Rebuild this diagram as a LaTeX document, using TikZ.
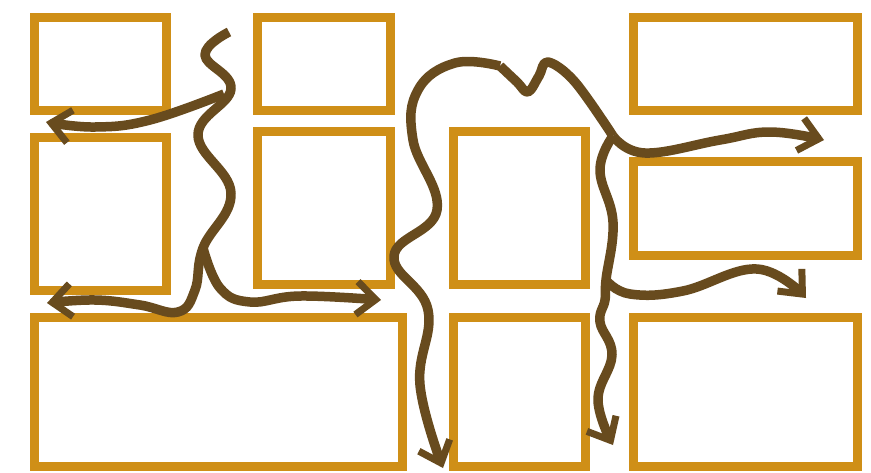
\documentclass[tikz,border=0pt]{standalone}
\usetikzlibrary{arrows.meta}
\definecolor{boxc}{RGB}{207,143,23}
\definecolor{pathc}{RGB}{104,75,30}
\begin{document}
\begin{tikzpicture}[x=1pt,y=-1pt,
  box/.style={draw=boxc,line width=9pt,inner sep=0pt,outer sep=0pt,fill=white},
  flow/.style={draw=pathc,line width=9.5pt,line cap=butt,line join=round},
  arr/.style={flow,-{Straight Barb[length=19pt,width=33pt,line width=7pt]}}]
\useasboundingbox (0,0) rectangle (871,472);
% boxes
\node[box,minimum width=132pt,minimum height=93pt]  (b1)  at (100.5,64) {};
\node[box,minimum width=133pt,minimum height=93pt]  (b2)  at (324,64) {};
\node[box,minimum width=132pt,minimum height=153pt] (b3)  at (100.5,214) {};
\node[box,minimum width=133pt,minimum height=153pt] (b4)  at (324,208) {};
\node[box,minimum width=368pt,minimum height=149pt] (b5)  at (218.5,392) {};
\node[box,minimum width=132pt,minimum height=153pt] (b6)  at (519.5,208) {};
\node[box,minimum width=132pt,minimum height=149pt] (b7)  at (519.5,392) {};
\node[box,minimum width=224pt,minimum height=93pt]  (b8)  at (745.5,64) {};
\node[box,minimum width=224pt,minimum height=94pt]  (b9)  at (745.5,208.5) {};
\node[box,minimum width=224pt,minimum height=149pt] (b10) at (745.5,392) {};
% named ends and junctions
\coordinate (sA) at (229,32);
\coordinate (jA1) at (224,94);
\coordinate (jA2) at (203,248);
\coordinate (tA1) at (46,122);
\coordinate (tA2) at (47,303);
\coordinate (tA3) at (381,300);
\coordinate (sB) at (500,66);
\coordinate (tB) at (443,468);
\coordinate (jB1) at (613,136);
\coordinate (jB2) at (606,280);
\coordinate (tB1) at (824,140);
\coordinate (tB2) at (806,298);
\coordinate (tB3) at (613,445);
% left wavy connector
\draw[arr] plot[smooth,tension=0.7] coordinates {(sA) (205,55) (231,89) (198,135) (231,193) (jA2) (195,290) (178,312) (140,305) (95,300) (tA2)};
\draw[arr] plot[smooth,tension=0.7] coordinates {(jA1) (150,120) (95,127) (tA1)};
\draw[arr] plot[smooth,tension=0.7] coordinates {(jA2) (220,288) (250,302) (300,296) (tA3)};
% central connector
\draw[arr] plot[smooth,tension=0.7] coordinates {(sB) (455,63) (418,90) (413,140) (437,210) (394,256) (428,310) (420,385) (tB)};
\draw[flow] plot[smooth,tension=0.6] coordinates {(sB) (517,82) (528,92) (539,76) (548,62) (575,82) (jB1)};
\draw[arr] plot[smooth,tension=0.7] coordinates {(jB1) (645,153) (720,140) (770,132) (tB1)};
\draw[arr] plot[smooth,tension=0.7] coordinates {(jB1) (600,170) (613,222) (jB2) (605,300) (600,322) (612,355) (598,400) (tB3)};
\draw[arr] plot[smooth,tension=0.7] coordinates {(jB2) (630,294) (683,291) (757,269) (tB2)};
\end{tikzpicture}
\end{document}
